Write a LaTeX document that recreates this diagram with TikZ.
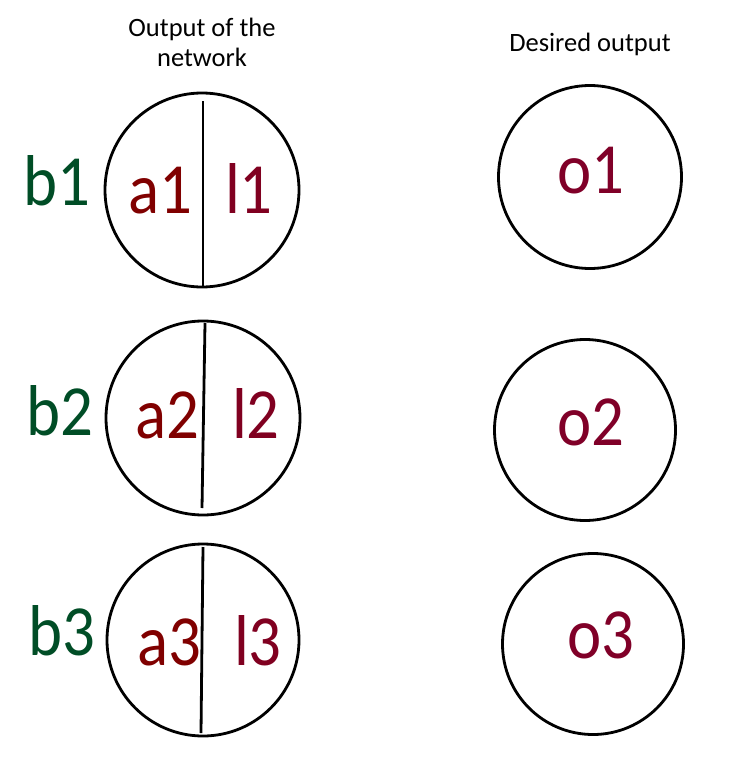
\documentclass[tikz,border=0pt]{standalone}
\usepackage{fontspec}
\setmainfont{Carlito}
\newfontfamily\bigfont[FakeStretch=0.9]{Carlito}
\definecolor{acol}{HTML}{800000}
\definecolor{lcol}{HTML}{800020}
\definecolor{ocol}{HTML}{800028}
\definecolor{bcol}{HTML}{004D26}
\begin{document}
\begin{tikzpicture}[x=1pt,y=-1pt,
  ring/.style={circle,draw=black,line width=2.8pt,inner sep=0pt},
  divider/.style={draw=black,line width=2.8pt},
  big/.style={anchor=base,inner sep=0pt,font=\bigfont\fontsize{72}{72}\selectfont},
  head/.style={align=center,inner sep=0pt,font=\fontsize{26.5}{30}\selectfont}]
\useasboundingbox (0,0) rectangle (734,784);
% headers
\node[head] (h1) at (202,42) {Output of the\\network};
\node[head] (h2) at (590,44) {Desired output};
% left circles
\node[ring,minimum size=194pt] (c1) at (202,190) {};
\node[ring,minimum size=194pt] (c2) at (203,418) {};
\node[ring,minimum size=192pt] (c3) at (203,640) {};
\coordinate (t1) at (203,101); \coordinate (u1) at (203,287);
\coordinate (t2) at (205,323); \coordinate (u2) at (202,508);
\coordinate (t3) at (203,547); \coordinate (u3) at (201,733);
\draw[divider] (t1) -- (u1);
\draw[divider] (t2) -- (u2);
\draw[divider] (t3) -- (u3);
% right circles
\node[ring,minimum size=183pt] (r1) at (590,177) {};
\node[ring,minimum size=181pt] (r2) at (585,430) {};
\node[ring,minimum size=181pt] (r3) at (593,644) {};
% labels
\node[big,text=bcol] (b1) at (57,205) {b1};
\node[big,text=bcol] (b2) at (60,435) {b2};
\node[big,text=bcol] (b3) at (62,655) {b3};
\node[big,text=acol] (a1) at (160,213) {a1};
\node[big,text=acol] (a2) at (167,438) {a2};
\node[big,text=acol] (a3) at (169,665) {a3};
\node[big,text=lcol] (l1) at (249,213) {l1};
\node[big,text=lcol] (l2) at (256,438) {l2};
\node[big,text=lcol] (l3) at (258,665) {l3};
\node[big,text=ocol] (o1) at (591,193) {o1};
\node[big,text=ocol] (o2) at (591,445) {o2};
\node[big,text=ocol] (o3) at (601,658) {o3};
\end{tikzpicture}
\end{document}
